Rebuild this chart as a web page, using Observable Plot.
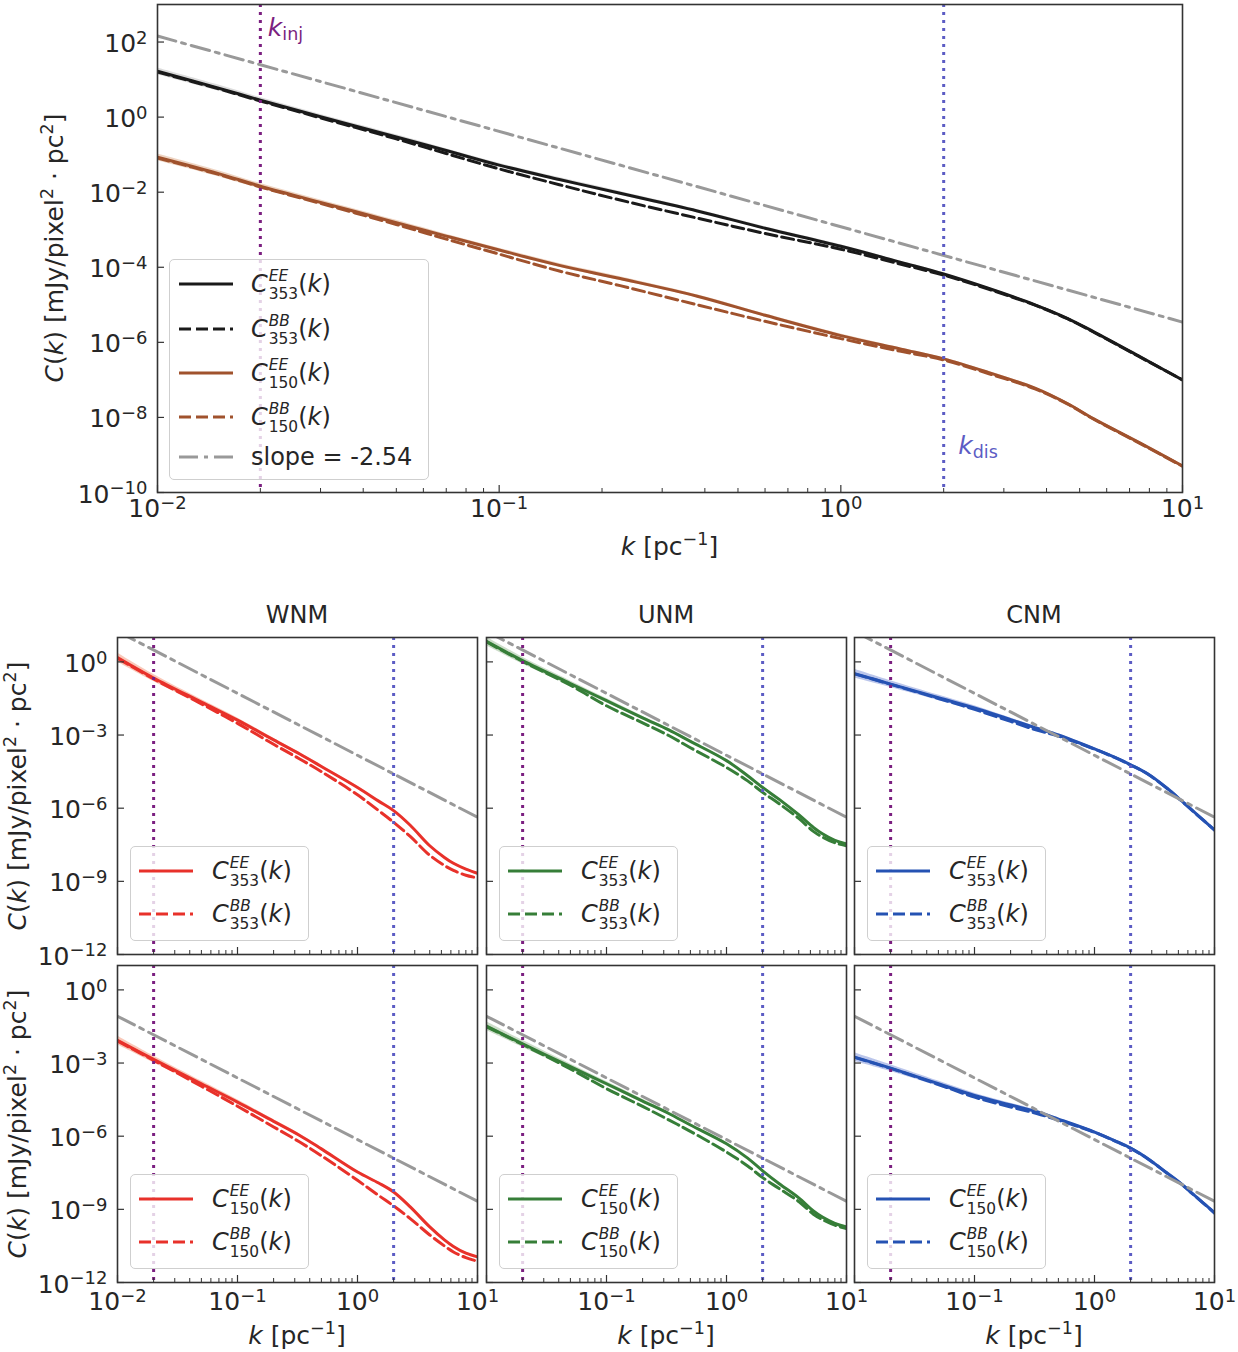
<!DOCTYPE html>
<html><head><meta charset="utf-8">
<script src="https://cdn.jsdelivr.net/npm/d3@7"></script>
<script src="https://cdn.jsdelivr.net/npm/@observablehq/plot@0.6"></script>
<style>
body{margin:0;background:#fff;font-family:"DejaVu Sans",sans-serif;color:#262626;}
#root{position:relative;width:1238px;height:1352px;overflow:hidden;background:#fff;}
.ylab{position:absolute;white-space:nowrap;line-height:1;font-size:25px;transform:translate(-50%,-50%) rotate(-90deg);}
.xlab{position:absolute;white-space:nowrap;line-height:1;font-size:25px;transform:translateX(-50%);}
.title{position:absolute;white-space:nowrap;line-height:1;font-size:24px;transform:translateX(-50%);}
.sp{font-size:0.7em;vertical-align:0.55em;line-height:0;}
.legend{position:absolute;background:rgba(255,255,255,0.8);border:1.3px solid #cfcfcf;border-radius:5px;box-sizing:border-box;}
.ls,.lt{position:absolute;}
.lt{font-size:24px;line-height:1;white-space:nowrap;color:#262626;}
.ss{display:inline-flex;flex-direction:column;font-size:15.4px;line-height:18px;vertical-align:11.5px;margin:-12px 0 -12px 1px;}
</style></head><body><div id="root"></div>
<script>
// ---------------- DATA (log10 of C(k)) ----------------
const kTop      = [0.01, 0.015, 0.02, 0.03, 0.05, 0.07, 0.1, 0.15, 0.226, 0.38, 0.6, 1, 1.5, 2, 2.7, 3.7, 4.6, 5.5, 7.5, 10];
const top353EE  = [1.22, 0.78, 0.45, 0.01, -0.53, -0.89, -1.28, -1.66, -2.03, -2.50, -2.96, -3.44, -3.87, -4.18, -4.56, -5.00, -5.36, -5.72, -6.38, -7.00];
const top353BB  = [1.20, 0.76, 0.43, -0.02, -0.58, -0.97, -1.38, -1.80, -2.21, -2.69, -3.10, -3.52, -3.92, -4.21, -4.58, -5.01, -5.37, -5.73, -6.39, -7.00];
const top150EE  = [-1.07, -1.50, -1.84, -2.27, -2.81, -3.17, -3.54, -3.95, -4.30, -4.77, -5.28, -5.82, -6.18, -6.44, -6.80, -7.22, -7.63, -8.04, -8.68, -9.29];
const top150BB  = [-1.09, -1.52, -1.86, -2.30, -2.86, -3.25, -3.65, -4.10, -4.49, -5.00, -5.44, -5.90, -6.24, -6.47, -6.83, -7.24, -7.64, -8.05, -8.69, -9.30];
const topBand   = [0.09, 0.08, 0.07, 0.06, 0.06, 0.05, 0.05, 0.05, 0.05, 0.04, 0.04, 0.04, 0.03, 0.03, 0.03, 0.03, 0.03, 0.03, 0.03, 0.03];

const kSmall    = [0.01, 0.02, 0.05, 0.1, 0.2, 0.33, 0.5, 1, 1.5, 2, 2.75, 4, 5.3, 6.3, 8, 10];
const wnm353EE  = [0.18, -0.66, -1.65, -2.39, -3.20, -3.78, -4.29, -5.15, -5.71, -6.10, -6.70, -7.54, -8.02, -8.26, -8.50, -8.67];
const wnm353BB  = [0.15, -0.70, -1.72, -2.52, -3.38, -3.98, -4.50, -5.45, -6.10, -6.58, -7.16, -7.93, -8.35, -8.55, -8.75, -8.86];
const unm353EE  = [0.84, 0.05, -0.89, -1.59, -2.30, -2.79, -3.26, -4.05, -4.67, -5.15, -5.64, -6.27, -6.79, -7.05, -7.32, -7.47];
const unm353BB  = [0.82, 0.02, -0.96, -1.80, -2.50, -3.02, -3.52, -4.33, -4.88, -5.35, -5.82, -6.42, -6.95, -7.18, -7.42, -7.54];
const cnm353EE  = [-0.48, -0.91, -1.47, -1.89, -2.37, -2.72, -3.00, -3.57, -3.93, -4.22, -4.58, -5.17, -5.69, -6.02, -6.47, -6.89];
const cnm353BB  = [-0.49, -0.92, -1.50, -1.95, -2.44, -2.80, -3.04, -3.58, -3.94, -4.23, -4.59, -5.18, -5.70, -6.03, -6.48, -6.90];
const wnm150EE  = [-2.07, -2.85, -3.85, -4.60, -5.39, -5.97, -6.52, -7.47, -7.92, -8.29, -8.90, -9.72, -10.25, -10.52, -10.80, -10.95];
const wnm150BB  = [-2.10, -2.89, -3.95, -4.77, -5.62, -6.24, -6.80, -7.81, -8.43, -8.86, -9.38, -10.05, -10.50, -10.75, -10.98, -11.13];
const unm150EE  = [-1.49, -2.21, -3.15, -3.85, -4.56, -5.07, -5.54, -6.31, -6.90, -7.42, -7.95, -8.53, -9.07, -9.32, -9.58, -9.72];
const unm150BB  = [-1.51, -2.24, -3.24, -4.05, -4.78, -5.33, -5.80, -6.65, -7.22, -7.70, -8.15, -8.68, -9.20, -9.42, -9.65, -9.79];
const cnm150EE  = [-2.76, -3.21, -3.85, -4.33, -4.72, -5.00, -5.30, -5.83, -6.20, -6.49, -6.90, -7.50, -7.96, -8.28, -8.72, -9.14];
const cnm150BB  = [-2.77, -3.22, -3.88, -4.40, -4.80, -5.07, -5.34, -5.84, -6.21, -6.50, -6.91, -7.51, -7.97, -8.29, -8.73, -9.15];
const smallBand = [0.18, 0.14, 0.11, 0.09, 0.07, 0.06, 0.05, 0.05, 0.04, 0.04, 0.04, 0.04, 0.04, 0.04, 0.04, 0.04];

const slopeK    = [0.01, 10];
const slopeTop  = [2.16, -5.46];
const slope353  = [1.25, -6.37];
const slope150  = [-1.08, -8.67];
const slopeLabel = "slope = -2.54";
const kInj = 0.02, kDis = 2.0;

const topYTicks   = [1e2, 1, 1e-2, 1e-4, 1e-6, 1e-8, 1e-10];
const smallYTicks = [1, 1e-3, 1e-6, 1e-9, 1e-12];
const xMajor = [0.01, 0.1, 1, 10];
const xMinor = [0.02,0.03,0.04,0.05,0.06,0.07,0.08,0.09, 0.2,0.3,0.4,0.5,0.6,0.7,0.8,0.9, 2,3,4,5,6,7,8,9];
const phases = ["WNM", "UNM", "CNM"];

// ---------------- STYLE ----------------
const FONT = '"DejaVu Sans", sans-serif';
const COL = {black:"#1a1a1a", brown:"#a0522d", red:"#e8312a", green:"#367e38", blue:"#2552b3",
             gray:"#999999", inj:"#7b1f80", dis:"#5c5cc4"};
const BAND = {black:"#c4c4c4", brown:"#e2b799", red:"#f7b29c", green:"#b7cfb2", blue:"#9eaee2"};
const DASH = "12,5", DASHDOT = "19,6,4,6", DOT = "3,5";

const root = document.getElementById("root");
const rowsOf = (ks, logs) => ks.map((k, i) => ({k, v: 10 ** logs[i]}));
const bandOf = (ks, logs, w) => ks.map((k, i) => ({k, lo: 10 ** (logs[i] - w[i]), hi: 10 ** (logs[i] + w[i])}));
const fmtPow = d => `10^${Math.round(Math.log10(d))}`;

function supify(svg) {
  svg.querySelectorAll("text").forEach(t => {
    const m = /^10\^(-?\d+)$/.exec(t.textContent);
    if (!m) return;
    t.textContent = "10";
    const ts = document.createElementNS("http://www.w3.org/2000/svg", "tspan");
    ts.setAttribute("dy", "-0.45em");
    ts.setAttribute("font-size", "0.72em");
    ts.textContent = m[1].replace("-", "\u2212");
    t.appendChild(ts);
  });
}

function panel(o) {
  const ml = 130, mr = 24, mt = 12, mb = 60;
  const marks = [];
  o.bands.forEach(b => marks.push(Plot.areaY(bandOf(o.k, b.logs, o.bw),
    {x: "k", y1: "lo", y2: "hi", fill: b.fill, fillOpacity: b.op, curve: "catmull-rom", clip: true})));
  o.curves.forEach(c => marks.push(Plot.line(rowsOf(o.k, c.logs),
    {x: "k", y: "v", stroke: c.color, strokeWidth: 3, strokeDasharray: c.dash, curve: "catmull-rom", clip: true})));
  marks.push(Plot.line(rowsOf(slopeK, o.slope),
    {x: "k", y: "v", stroke: COL.gray, strokeWidth: 3, strokeDasharray: DASHDOT, clip: true}));
  marks.push(Plot.ruleX([kInj], {stroke: COL.inj, strokeWidth: 3, strokeDasharray: DOT}));
  marks.push(Plot.ruleX([kDis], {stroke: COL.dis, strokeWidth: 3, strokeDasharray: DOT}));
  marks.push(Plot.frame({stroke: "#333", strokeWidth: 1.6}));
  marks.push(Plot.ruleX(xMajor, {stroke: "#333", strokeWidth: 1.2, insetTop: o.fh - 7}));
  marks.push(Plot.ruleX(xMinor, {stroke: "#333", strokeWidth: 1, insetTop: o.fh - 4}));
  marks.push(Plot.ruleY(o.yTicks, {stroke: "#333", strokeWidth: 1.2, insetRight: o.fw - 7}));
  if (o.xLabels.length) marks.push(Plot.axisX(o.xLabels, {tickSize: 0, tickPadding: o.xPad, tickFormat: fmtPow, label: null}));
  if (o.yLabels.length) marks.push(Plot.axisY(o.yLabels, {tickSize: 0, tickPadding: 10, dy: 2, tickFormat: fmtPow, label: null}));
  const svg = Plot.plot({
    width: o.fw + ml + mr, height: o.fh + mt + mb,
    marginLeft: ml, marginRight: mr, marginTop: mt, marginBottom: mb,
    style: {fontFamily: FONT, fontSize: "25px", color: "#262626", background: "transparent", overflow: "visible"},
    x: {type: "log", domain: [0.01, 10], axis: null},
    y: {type: "log", domain: o.yDomain, axis: null},
    marks
  });
  svg.style.position = "absolute";
  svg.style.left = (o.fl - ml) + "px";
  svg.style.top = (o.ft - mt) + "px";
  supify(svg);
  root.appendChild(svg);
  return {svg, ml, mt};
}

function addText(svg, x, y, color, main, sub) {
  const NS = "http://www.w3.org/2000/svg";
  const t = document.createElementNS(NS, "text");
  t.setAttribute("x", x); t.setAttribute("y", y);
  t.setAttribute("fill", color); t.setAttribute("font-size", "25");
  t.setAttribute("font-family", FONT);
  t.setAttribute("text-anchor", "start");
  const a = document.createElementNS(NS, "tspan"); a.setAttribute("font-style", "italic"); a.textContent = main;
  const b = document.createElementNS(NS, "tspan"); b.setAttribute("font-size", "0.7em"); b.setAttribute("dy", "0.2em"); b.textContent = sub;
  t.appendChild(a); t.appendChild(b); svg.appendChild(t);
}

const mathC = (sup, sub) => `<i>C</i><span class="ss"><i>${sup}</i><span>${sub}</span></span>(<i>k</i>)`;

function addLegend(left, top, w, h, rows, lineOff, textOff) {
  const box = document.createElement("div");
  box.className = "legend";
  Object.assign(box.style, {left: left + "px", top: top + "px", width: w + "px", height: h + "px"});
  let html = "";
  for (const r of rows) {
    html += `<svg class="ls" style="left:${lineOff}px;top:${r.cy - 7}px" width="54" height="14"><line x1="0" y1="7" x2="54" y2="7" stroke="${r.color}" stroke-width="3"${r.dash ? ` stroke-dasharray="${r.dash}"` : ""}/></svg>`;
    html += `<div class="lt" style="left:${textOff}px;top:${r.cy - 12}px">${r.html}</div>`;
  }
  box.innerHTML = html;
  root.appendChild(box);
}

function addDiv(cls, x, y, html) {
  const d = document.createElement("div");
  d.className = cls;
  d.style.left = x + "px"; d.style.top = y + "px";
  d.innerHTML = html;
  root.appendChild(d);
}

const yLabHTML = `<i>C</i>(<i>k</i>) [mJy/pixel<span class="sp">2</span> · pc<span class="sp">2</span>]`;
const xLabHTML = `<i>k</i> [pc<span class="sp">\u22121</span>]`;

// ---------------- TOP PANEL ----------------
const TOP = {fl: 157, ft: 4, fw: 1025, fh: 488};
const topP = panel({
  ...TOP, k: kTop, bw: topBand, yDomain: [1e-10, 1e3], yTicks: topYTicks,
  yLabels: topYTicks, xLabels: xMajor, xPad: 7, slope: slopeTop,
  bands: [{logs: top353EE, fill: BAND.black, op: 0.6}, {logs: top150EE, fill: BAND.brown, op: 0.6}],
  curves: [
    {logs: top353EE, color: COL.black},
    {logs: top353BB, color: COL.black, dash: DASH},
    {logs: top150EE, color: COL.brown},
    {logs: top150BB, color: COL.brown, dash: DASH}
  ]
});
{
  const xs = topP.svg.scale("x");
  addText(topP.svg, xs.apply(kInj) + 8, topP.mt + 32, COL.inj, "k", "inj");
  addText(topP.svg, xs.apply(kDis) + 15, topP.mt + 450, COL.dis, "k", "dis");
}
addLegend(169, 259, 260, 221, [
  {cy: 24, color: COL.black, html: mathC("EE", "353")},
  {cy: 69, color: COL.black, dash: DASH, html: mathC("BB", "353")},
  {cy: 113, color: COL.brown, html: mathC("EE", "150")},
  {cy: 157, color: COL.brown, dash: DASH, html: mathC("BB", "150")},
  {cy: 197, color: COL.gray, dash: DASHDOT, html: slopeLabel}
], 9, 81);
addDiv("ylab", 54, 248, yLabHTML);
addDiv("xlab", 669.5, 534, xLabHTML);

// ---------------- SMALL PANELS ----------------
const lefts = [117, 486, 854];
const rowTops = [637, 965];
const FW = 360, FH = 317;
const small = [
  [ {ee: wnm353EE, bb: wnm353BB, c: "red"}, {ee: unm353EE, bb: unm353BB, c: "green"}, {ee: cnm353EE, bb: cnm353BB, c: "blue"} ],
  [ {ee: wnm150EE, bb: wnm150BB, c: "red"}, {ee: unm150EE, bb: unm150BB, c: "green"}, {ee: cnm150EE, bb: cnm150BB, c: "blue"} ]
];
const freqs = ["353", "150"];
const slopes = [slope353, slope150];

small.forEach((row, r) => {
  row.forEach((s, c) => {
    const fl = lefts[c], ft = rowTops[r];
    panel({
      fl, ft, fw: FW, fh: FH, k: kSmall, bw: smallBand, yDomain: [1e-12, 1e1], yTicks: smallYTicks,
      yLabels: c === 0 ? smallYTicks : [],
      xLabels: r === 1 ? (c === 0 ? xMajor : xMajor.slice(1)) : [],
      xPad: 10, slope: slopes[r],
      bands: [{logs: s.ee, fill: BAND[s.c], op: 0.7}],
      curves: [{logs: s.ee, color: COL[s.c]}, {logs: s.bb, color: COL[s.c], dash: DASH}]
    });
    addLegend(fl + 13, ft + 209, 179, 95, [
      {cy: 24, color: COL[s.c], html: mathC("EE", freqs[r])},
      {cy: 67, color: COL[s.c], dash: DASH, html: mathC("BB", freqs[r])}
    ], 8, 81);
    if (r === 1) addDiv("xlab", fl + FW / 2, 1323, xLabHTML);
  });
  addDiv("ylab", 17, rowTops[r] + FH / 2, yLabHTML);
});
phases.forEach((p, c) => addDiv("title", lefts[c] + FW / 2, 603, p));
</script></body></html>
